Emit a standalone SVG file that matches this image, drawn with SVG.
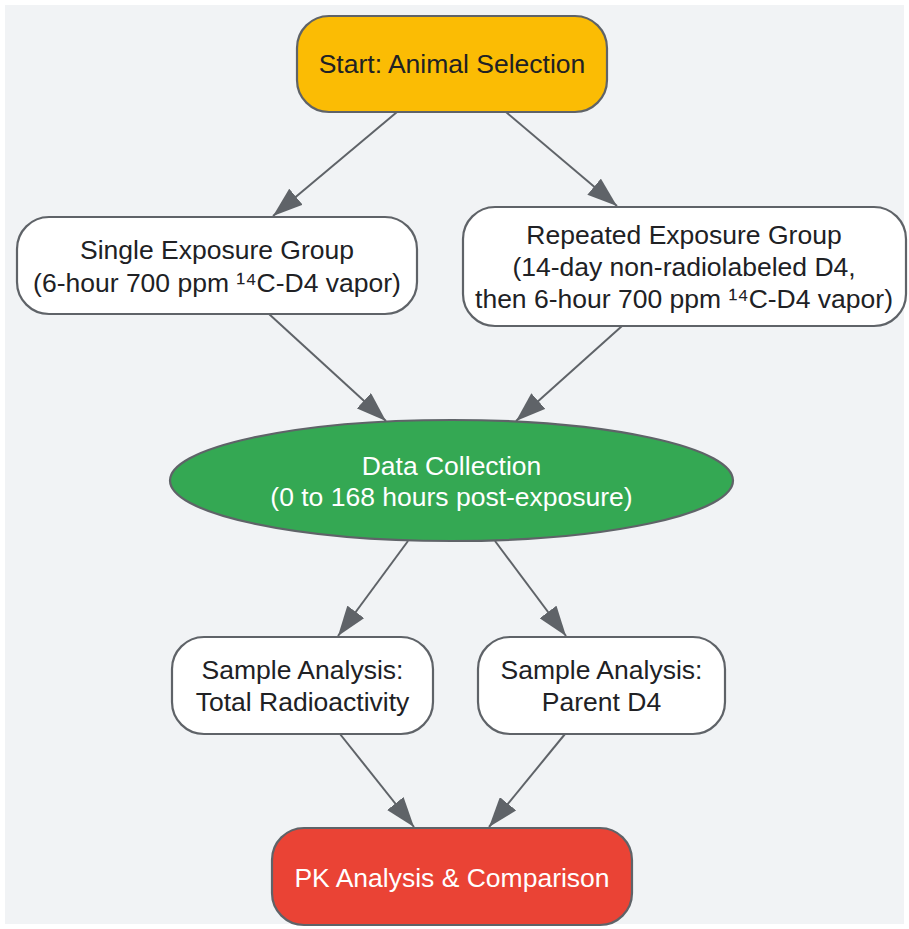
<svg xmlns="http://www.w3.org/2000/svg" width="909" height="929" viewBox="0 0 909 929">
<style>
.n{stroke:#5f6368;stroke-width:2.2}
.t{font-family:"Liberation Sans",Arial,sans-serif;font-size:26.5px;text-anchor:middle;dominant-baseline:central;fill:#202124}
.w{fill:#ffffff}
</style>
<defs>
<marker id="a" viewBox="0 0 30 21" refX="30" refY="10.5" markerWidth="30" markerHeight="21" orient="auto" markerUnits="userSpaceOnUse">
<path d="M0,0 L30,10.5 L0,21 z" fill="#5f6368"/>
</marker>
</defs>
<rect width="909" height="929" fill="#ffffff"/>
<rect x="5" y="5" width="899" height="919" fill="#f1f3f5"/>
<g id="connectors" stroke="#5f6368" stroke-width="2" fill="none" marker-end="url(#a)">
<line x1="397" y1="112" x2="273" y2="216"/>
<line x1="506" y1="112" x2="617" y2="206"/>
<line x1="269" y1="314" x2="386" y2="421"/>
<line x1="622" y1="326" x2="516" y2="421"/>
<line x1="408" y1="541" x2="338" y2="636"/>
<line x1="495" y1="541" x2="566" y2="636"/>
<line x1="340" y1="734" x2="414" y2="827"/>
<line x1="565" y1="734" x2="489" y2="827"/>
</g>
<g id="start">
<rect class="n" x="297" y="16" width="310" height="96" rx="32" fill="#fbbc04"/>
<text class="t" x="452" y="64">Start: Animal Selection</text>
</g>
<g id="single">
<rect class="n" x="17" y="217" width="400" height="97" rx="32" fill="#ffffff"/>
<text class="t" x="217" y="250">Single Exposure Group</text>
<text class="t" x="217" y="283">(6-hour 700 ppm ¹⁴C-D4 vapor)</text>
</g>
<g id="repeated">
<rect class="n" x="463" y="207" width="443" height="119" rx="32" fill="#ffffff"/>
<text class="t" x="684" y="235">Repeated Exposure Group</text>
<text class="t" x="684" y="267">(14-day non-radiolabeled D4,</text>
<text class="t" x="684" y="299">then 6-hour 700 ppm ¹⁴C-D4 vapor)</text>
</g>
<g id="data">
<ellipse class="n" cx="451.5" cy="480.5" rx="281.5" ry="60.5" fill="#34a853"/>
<text class="t w" x="451.5" y="466">Data Collection</text>
<text class="t w" x="451.5" y="497">(0 to 168 hours post-exposure)</text>
</g>
<g id="total">
<rect class="n" x="172" y="637" width="261" height="97" rx="32" fill="#ffffff"/>
<text class="t" x="302.5" y="670">Sample Analysis:</text>
<text class="t" x="302.5" y="702">Total Radioactivity</text>
</g>
<g id="parent">
<rect class="n" x="478" y="637" width="247" height="97" rx="32" fill="#ffffff"/>
<text class="t" x="601.5" y="670">Sample Analysis:</text>
<text class="t" x="601.5" y="702">Parent D4</text>
</g>
<g id="pk">
<rect class="n" x="272" y="828" width="360" height="97" rx="32" fill="#ea4335"/>
<text class="t w" x="452" y="878">PK Analysis &amp; Comparison</text>
</g>
</svg>
